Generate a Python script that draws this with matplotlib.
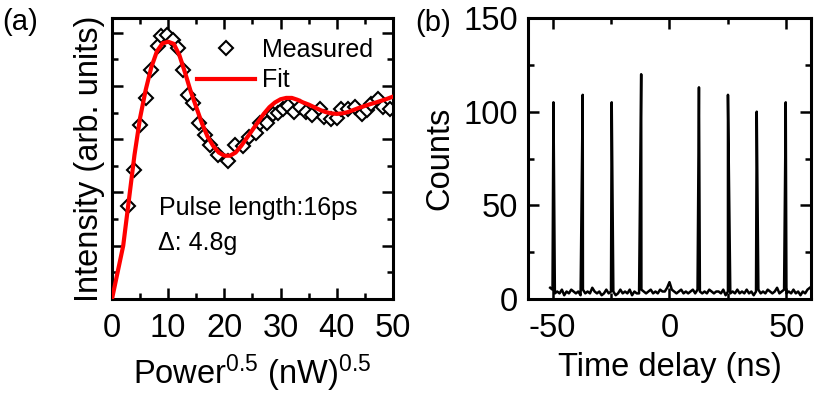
import numpy as np
import matplotlib
matplotlib.use("Agg")
import matplotlib.pyplot as plt
from matplotlib.ticker import MultipleLocator

plt.rcParams['font.family'] = ['Liberation Sans', 'DejaVu Sans']
plt.rcParams['mathtext.fontset'] = 'custom'
plt.rcParams['mathtext.rm'] = 'Liberation Sans'
plt.rcParams['mathtext.it'] = 'Liberation Sans:italic'
plt.rcParams['axes.unicode_minus'] = False

# --- (a) Rabi oscillation: measured points and fit ---
meas_x = [2.8, 3.9, 4.9, 6.1, 6.9, 8.2, 8.8, 9.8, 10.8, 11.7, 12.6, 13.5, 14.4,
          15.4, 16.5, 17.4, 18.9, 20.7, 21.9, 23.4, 24.4, 25.6, 26.4, 27.5,
          28.6, 29.6, 30.5, 31.4, 32.3, 33.4, 34.6, 35.6, 37.0, 37.7, 39.0,
          40.0, 40.7, 42.0, 43.3, 44.4, 45.4, 46.0, 47.4, 48.3, 49.4]
meas_y = [3.5, 4.85, 6.55, 7.55, 8.6, 9.5, 9.87, 9.92, 9.72, 9.41, 8.6, 7.65, 7.35,
          6.6, 6.15, 5.8, 5.42, 5.18, 5.78, 5.75, 6.1, 6.25, 6.6, 6.62,
          6.95, 6.97, 7.12, 7.25, 7.03, 7.22, 7.03, 6.92, 7.14, 6.85, 6.75,
          6.78, 7.12, 7.15, 7.2, 6.93, 7.1, 7.33, 7.52, 7.22, 7.15]

fit_x = list(range(0, 51))
fit_y = [0.0, 1.0, 2.0, 3.7, 5.4, 6.8, 7.85, 8.7, 9.3, 9.6, 9.66, 9.58, 9.15,
         8.5, 7.8, 7.2, 6.6, 6.1, 5.75, 5.5, 5.38, 5.38, 5.5, 5.75, 6.05, 6.35,
         6.65, 6.95, 7.2, 7.38, 7.5, 7.55, 7.55, 7.48, 7.38, 7.3, 7.2, 7.1,
         7.02, 6.97, 6.95, 6.97, 7.02, 7.1, 7.18, 7.25, 7.32, 7.38, 7.45,
         7.52, 7.6]

# --- (b) second-order correlation histogram ---
bg_t = list(range(-51, 61))
bg_counts = [6, 5, 3, 4, 3, 5, 2, 4, 3, 5, 4,
             3, 4, 2, 5, 3, 4, 3, 6, 4, 3,
             4, 2, 3, 5, 3, 4, 4, 2, 3, 5,
             3, 4, 3, 5, 2, 4, 3, 3, 5, 4,
             3, 4, 5, 3, 4, 3, 5, 4, 4, 6,
             9,
             5, 4, 3, 4, 5, 3, 4, 3, 4, 5,
             3, 5, 4, 3, 4, 3, 5, 4, 3, 4,
             4, 3, 5, 2, 4, 3, 4, 3, 5, 3,
             4, 3, 5, 3, 4, 2, 4, 5, 3, 4,
             3, 5, 4, 3, 4, 6, 3, 4, 5, 3,
             4, 3, 5, 3, 4, 2, 4, 3, 5, 6]
peak_t = [-49.6, -37.1, -24.7, -12.1, 12.6, 25.0, 37.3, 49.7]
peak_counts = [105, 109, 105, 120, 113, 109, 100, 105]

t_all = np.array(bg_t + peak_t, dtype=float)
c_all = np.array(bg_counts + peak_counts, dtype=float)
order = np.argsort(t_all)
t_all, c_all = t_all[order], c_all[order]

fig = plt.figure(figsize=(8.3, 4.2), dpi=100)
ax1 = fig.add_axes([0.1349, 0.2881, 0.3386, 0.669])
ax2 = fig.add_axes([0.6361, 0.2881, 0.341, 0.669])

FS = 23.5
for ax in (ax1, ax2):
    for s in ax.spines.values():
        s.set_linewidth(2.2)
    ax.tick_params(which='both', direction='in', top=True, right=True,
                   labelsize=FS, width=1.8)
    ax.tick_params(which='major', length=8)
    ax.tick_params(which='minor', length=4.5)
    ax.tick_params(axis='x', which='major', pad=10)
    ax.tick_params(axis='y', which='major', pad=7)

ax1.plot(meas_x, meas_y, 'D', ms=7.5, mfc='white', mec='black', mew=1.5,
         label='Measured', zorder=2)
ax1.plot(fit_x, fit_y, '-', color='red', lw=3, label='Fit', zorder=3)
ax1.set_xlim(0, 50)
ax1.set_ylim(0, 10.55)
ax1.xaxis.set_major_locator(MultipleLocator(10))
ax1.xaxis.set_minor_locator(MultipleLocator(5))
ax1.yaxis.set_major_locator(MultipleLocator(2))
ax1.yaxis.set_minor_locator(MultipleLocator(1))
ax1.set_yticklabels([])
ax1.set_xlabel(r'Power$^{0.5}$ (nW)$^{0.5}$', fontsize=FS, labelpad=6)
ax1.set_ylabel('Intensity (arb. units)', fontsize=FS, labelpad=-2)
ax1.legend(loc='upper right', frameon=False, fontsize=18, numpoints=1,
           handlelength=2.3, handletextpad=0.3, labelspacing=0.25,
           borderaxespad=0.4)
ax1.text(8.4, 3.42, 'Pulse length:16ps', fontsize=18, va='center')
ax1.text(8.2, 2.11, '\u0394: 4.8g', fontsize=18, va='center')

ax2.plot(t_all, c_all, '-', color='black', lw=1.8)
ax2.set_xlim(-60.5, 60.5)
ax2.set_ylim(0, 150)
ax2.xaxis.set_major_locator(MultipleLocator(50))
ax2.xaxis.set_minor_locator(MultipleLocator(25))
ax2.yaxis.set_major_locator(MultipleLocator(50))
ax2.yaxis.set_minor_locator(MultipleLocator(25))
ax2.set_xlabel('Time delay (ns)', fontsize=FS, labelpad=6)
ax2.set_ylabel('Counts', fontsize=FS, labelpad=6)

fig.text(0.003, 0.947, '(a)', fontsize=21, va='center')
fig.text(0.5, 0.945, '(b)', fontsize=21, va='center')

fig.savefig('out.png', dpi=100)
